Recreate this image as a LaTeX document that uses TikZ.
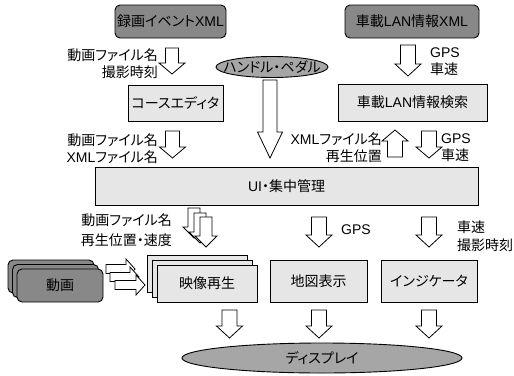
\documentclass[tikz,border=0pt]{standalone}
\usepackage{fontspec}
\setmainfont[RawFeature={+palt}]{Noto Sans CJK JP}
\newfontfamily\latfont{Liberation Sans}
\usetikzlibrary{shapes.geometric}
\definecolor{darkfill}{HTML}{888888}
\definecolor{ovalfill}{HTML}{A6A6A6}
\definecolor{lightfill}{HTML}{E6E6E6}
\newcommand\lt[1]{{\latfont #1}}
% block arrow: x, y (tail), angle, length, shaft half, head half, head length
\newcommand\barr[7]{%
  \begin{scope}[shift={(#1,#2)},rotate=#3]
    \draw[blk] (0,-#5) -- (#4-#7,-#5) -- (#4-#7,-#6) -- (#4,0) -- (#4-#7,#6) -- (#4-#7,#5) -- (0,#5) -- cycle;
  \end{scope}}
\begin{document}
\begin{tikzpicture}[x=1pt,y=-1pt,
  every node/.style={font=\fontsize{14}{17}\selectfont, inner sep=0pt},
  dark/.style={draw, rounded corners=5pt, fill=darkfill, line width=0.9pt},
  light/.style={draw, fill=lightfill, line width=0.9pt},
  oval/.style={draw, ellipse, fill=ovalfill, line width=0.9pt},
  blk/.style={draw, fill=white, line width=0.8pt, line join=miter},
  lab/.style={align=right, anchor=east},
  labl/.style={align=left, anchor=west}]
\useasboundingbox (0,0) rectangle (514,375);

% top sources
\node[dark, minimum width=111pt, minimum height=33pt] (rokuga) at (170.5,21.5) {録画イベント\lt{XML}};
\node[dark, minimum width=134pt, minimum height=33pt] (shaxml) at (412,21.5) {車載\lt{LAN}情報\lt{XML}};

% ellipse handle
\node[oval, minimum width=112pt, minimum height=21pt] (handle) at (272,67) {};
\node (handlet) at (handle) {ハンドル・ペダル};

% second row
\node[light, minimum width=95pt, minimum height=36pt] (course) at (175.5,103) {コースエディタ};
\node[light, minimum width=149pt, minimum height=37pt] (lansearch) at (412.5,102.5) {車載\lt{LAN}情報検索};

% UI
\node[light, minimum width=383pt, minimum height=38pt] (ui) at (286.5,186) {\lt{UI}・集中管理};

% video stack
\node[dark, minimum width=86pt, minimum height=33pt] (douga3) at (51,276.5) {};
\node[dark, minimum width=86pt, minimum height=33pt] (douga2) at (55.5,281) {};
\node[dark, minimum width=86pt, minimum height=33pt] (douga) at (60,285.5) {動画};

% playback stack
\node[light, minimum width=100pt, minimum height=37pt] (eizo3) at (197,273.5) {};
\node[light, minimum width=100pt, minimum height=37pt] (eizo2) at (202,278.5) {};
\node[light, minimum width=100pt, minimum height=37pt] (eizo) at (207,283.5) {映像再生};

\node[light, minimum width=97pt, minimum height=42pt] (chizu) at (318.5,281) {地図表示};
\node[light, minimum width=96pt, minimum height=42pt] (ind) at (429,281) {インジケータ};

% display
\node[oval, minimum width=280pt, minimum height=30pt] (disp) at (322,358) {};
\node (dispt) at (disp) {ディスプレイ};

% arrows
\barr{172}{48}{-90}{26}{6.5}{13}{11}
\barr{408}{45}{-90}{31}{7.5}{13}{12}
\barr{172.5}{131}{-90}{27}{7}{13}{11}
\barr{395}{157}{90}{27}{7.5}{13}{11}
\barr{429}{131}{-90}{27}{7.5}{13}{11}
\barr{270}{80}{-90}{78}{7}{12.5}{26}
\barr{319}{217}{-90}{30}{7.5}{13}{12}
\barr{429}{217}{-90}{30}{7.5}{13}{12}
\barr{229.5}{310}{-90}{28}{7.5}{13}{12}
\barr{319}{310}{-90}{28}{7.5}{13}{12}
\barr{429}{310}{-90}{28}{7.5}{13}{12}
% stacked down arrows
\barr{194}{208}{-90}{30}{6}{11}{11}
\barr{200}{213}{-90}{30}{6}{11}{11}
\barr{206}{217}{-90}{30}{6}{11}{11}
% stacked right arrows
\barr{106}{269}{0}{29}{4.5}{10}{9}
\barr{110}{277}{0}{29}{4.5}{10}{9}
\barr{115}{285}{0}{30}{4.5}{10}{9}

% labels
\node[lab] (l1) at (158,63.5) {動画ファイル名\\撮影時刻};
\node[labl] (l2) at (430,61.5) {\lt{GPS}\\車速};
\node[lab] (l3) at (158,148.5) {動画ファイル名\\\lt{XML}ファイル名};
\node[lab] (l4) at (382,147.5) {\lt{XML}ファイル名\\再生位置};
\node[labl] (l5) at (441,147.5) {\lt{GPS}\\車速};
\node[lab, font=\fontsize{14}{20}\selectfont] (l6) at (172,230) {動画ファイル名\\再生位置・速度};
\node[labl] (l7) at (341,230) {\lt{GPS}};
\node[labl, font=\fontsize{14}{18}\selectfont] (l8) at (457,236) {車速\\撮影時刻};
\end{tikzpicture}
\end{document}
